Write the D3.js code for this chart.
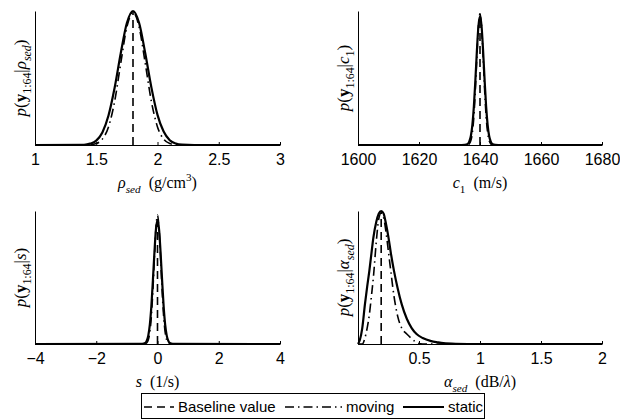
<!DOCTYPE html>
<html>
<head>
<meta charset="utf-8">
<script src="https://cdn.jsdelivr.net/npm/d3@7"></script>
<style>
  body { margin: 0; background: #fff; }
  svg { display: block; }
  .axis text { font-family: "Liberation Sans", Arial, sans-serif; font-size: 16px; fill: #000; }
  .axis path, .axis line { stroke: #000; }
  .math { font-family: "Liberation Serif", "DejaVu Serif", serif; fill: #000; }
  .legend text { font-family: "Liberation Sans", Arial, sans-serif; font-size: 15px; fill: #000; }
</style>
</head>
<body>
<svg id="chart" width="620" height="420"></svg>
<script>
// ---- data (normalised likelihood) ----
const rhoDomain = [1, 3];
const rhoTicks = [1, 1.5, 2, 2.5, 3];
const rhoBaseline = 1.8;
const rhoGrid =   [1, 1.4, 1.45, 1.5, 1.55, 1.6, 1.65, 1.7, 1.75, 1.8, 1.85, 1.9, 1.95, 2.0, 2.05, 2.1, 2.15, 2.2, 2.3, 3];
const rhoStatic = [0, 0.002, 0.01, 0.033, 0.094, 0.22, 0.427, 0.685, 0.91, 1, 0.91, 0.685, 0.43, 0.225, 0.1, 0.036, 0.011, 0.003, 0, 0];
const rhoMoving = [0, 0, 0.002, 0.011, 0.044, 0.135, 0.325, 0.61, 0.88, 0.99, 0.88, 0.61, 0.325, 0.135, 0.044, 0.011, 0.002, 0, 0, 0];

const c1Domain = [1600, 1680];
const c1Ticks = [1600, 1620, 1640, 1660, 1680];
const c1Baseline = 1640;
const c1Grid =   [1600, 1634, 1635, 1636, 1636.5, 1637, 1637.5, 1638, 1638.5, 1639, 1639.5, 1640, 1640.5, 1641, 1641.5, 1642, 1642.5, 1643, 1643.5, 1644, 1645, 1646, 1680];
const c1Static = [0, 0, 0.001, 0.008, 0.026, 0.067, 0.15, 0.29, 0.49, 0.71, 0.89, 0.96, 0.89, 0.71, 0.49, 0.29, 0.15, 0.067, 0.026, 0.008, 0.001, 0, 0];
const c1Moving = [0, 0, 0, 0.002, 0.01, 0.033, 0.092, 0.216, 0.42, 0.67, 0.89, 0.98, 0.89, 0.67, 0.42, 0.216, 0.092, 0.033, 0.01, 0.002, 0, 0, 0];

const sDomain = [-4, 4];
const sTicks = [-4, -2, 0, 2, 4];
const sBaseline = 0;
const sGrid =   [-4, -0.5, -0.4, -0.35, -0.3, -0.25, -0.2, -0.15, -0.1, -0.05, 0, 0.05, 0.1, 0.15, 0.2, 0.25, 0.3, 0.35, 0.4, 0.5, 4];
const sStatic = [0, 0.001, 0.008, 0.025, 0.065, 0.146, 0.285, 0.48, 0.69, 0.864, 0.93, 0.864, 0.69, 0.48, 0.285, 0.146, 0.065, 0.025, 0.008, 0.001, 0];
const sMoving = [0, 0, 0.002, 0.009, 0.031, 0.089, 0.21, 0.405, 0.65, 0.87, 0.97, 0.87, 0.65, 0.405, 0.21, 0.089, 0.031, 0.009, 0.002, 0, 0];

const alphaDomain = [0, 2];
const alphaTicks = [0.5, 1, 1.5, 2];
const alphaBaseline = 0.19;
const alphaGrid =   [0, 0.015, 0.035, 0.057, 0.075, 0.093, 0.11, 0.126, 0.15, 0.17, 0.19, 0.21, 0.23, 0.25, 0.27, 0.295, 0.325, 0.358, 0.4, 0.44, 0.48, 0.53, 0.6, 0.65, 0.7, 0.8, 1, 2];
const alphaStatic = [0, 0.03, 0.12, 0.3, 0.43, 0.55, 0.68, 0.8, 0.92, 0.98, 1, 0.98, 0.9, 0.8, 0.68, 0.55, 0.42, 0.3, 0.19, 0.12, 0.075, 0.045, 0.022, 0.013, 0.006, 0.002, 0, 0];
const alphaMoving = [0, 0, 0, 0.045, 0.12, 0.22, 0.36, 0.5, 0.77, 0.94, 0.985, 0.95, 0.84, 0.69, 0.54, 0.36, 0.21, 0.12, 0.075, 0.04, 0.012, 0, 0, 0, 0, 0, 0, 0];

const legendLabels = ["Baseline value", "moving", "static"];

// label pieces: [text, style]
const rhoXLabel = [["ρ", "i"], ["sed", "sub"], ["  (g/cm", "r"], ["3", "sup"], [")", "r"]];
const c1XLabel = [["c", "i"], ["1", "subr"], ["  (m/s)", "r"]];
const sXLabel = [["s", "i"], ["  (1/s)", "r"]];
const alphaXLabel = [["α", "i"], ["sed", "sub"], ["  (dB/", "r"], ["λ", "i"], [")", "r"]];
const yHead = [["p", "i"], ["(", "r"], ["y", "b"], ["1:64", "subr"], ["|", "r"]];
const rhoYLabel = yHead.concat([["ρ", "i"], ["sed", "sub"], [")", "r"]]);
const c1YLabel = yHead.concat([["c", "i"], ["1", "subr"], [")", "r"]]);
const sYLabel = yHead.concat([["s", "i"], [")", "r"]]);
const alphaYLabel = yHead.concat([["α", "i"], ["sed", "sub"], [")", "r"]]);

const panels = [
  { col: 0, row: 0, domain: rhoDomain, ticks: rhoTicks, grid: rhoGrid, stat: rhoStatic, mov: rhoMoving, base: rhoBaseline, xl: rhoXLabel, yl: rhoYLabel },
  { col: 1, row: 0, domain: c1Domain, ticks: c1Ticks, grid: c1Grid, stat: c1Static, mov: c1Moving, base: c1Baseline, xl: c1XLabel, yl: c1YLabel },
  { col: 0, row: 1, domain: sDomain, ticks: sTicks, grid: sGrid, stat: sStatic, mov: sMoving, base: sBaseline, xl: sXLabel, yl: sYLabel },
  { col: 1, row: 1, domain: alphaDomain, ticks: alphaTicks, grid: alphaGrid, stat: alphaStatic, mov: alphaMoving, base: alphaBaseline, xl: alphaXLabel, yl: alphaYLabel }
];

// ---- layout ----
const colX = [[35, 280], [358, 602]];
const rowY = [[11, 145], [211, 344]];
const dashStyle = "8,5";
const dashDotStyle = "9,4,1.5,4";

const svg = d3.select("#chart");

function mathText(sel, parts, size) {
  let shift = 0;
  parts.forEach(([t, s]) => {
    const small = (s === "sub" || s === "subr" || s === "sup");
    let target = 0;
    if (s === "sub" || s === "subr") target = 0.3 * size;
    if (s === "sup") target = -0.42 * size;
    const ts = sel.append("tspan").text(t).attr("dy", target - shift);
    shift = target;
    if (small) ts.attr("font-size", size * 0.7);
    if (s === "i" || s === "sub") ts.attr("font-style", "italic");
    if (s === "b") ts.attr("font-weight", "bold");
  });
  sel.style("white-space", "pre");
}

panels.forEach(p => {
  const [x0, x1] = colX[p.col];
  const [y0, y1] = rowY[p.row];
  const x = d3.scaleLinear().domain(p.domain).range([x0, x1]);
  const y = d3.scaleLinear().domain([0, 1]).range([y1, y0]);

  const pts = p.grid.map((g, i) => ({ x: g, s: p.stat[i], m: p.mov[i] }));
  const lineS = d3.line().x(d => x(d.x)).y(d => y(d.s)).curve(d3.curveMonotoneX);
  const lineM = d3.line().x(d => x(d.x)).y(d => y(d.m)).curve(d3.curveMonotoneX);
  const peak = Math.max(d3.max(p.stat), d3.max(p.mov));

  // baseline value
  svg.append("line")
    .attr("x1", x(p.base)).attr("x2", x(p.base))
    .attr("y1", y(0)).attr("y2", y(peak))
    .attr("stroke", "#000").attr("stroke-width", 1.6)
    .attr("stroke-dasharray", dashStyle);

  svg.append("path").datum(pts)
    .attr("d", lineM)
    .attr("fill", "none").attr("stroke", "#000").attr("stroke-width", 1.6)
    .attr("stroke-dasharray", dashDotStyle);

  svg.append("path").datum(pts)
    .attr("d", lineS)
    .attr("fill", "none").attr("stroke", "#000").attr("stroke-width", 2.2);

  // axes
  svg.append("g")
    .attr("class", "axis")
    .attr("transform", `translate(0,${y1})`)
    .call(d3.axisBottom(x).tickValues(p.ticks).tickSizeInner(-3).tickSizeOuter(0).tickPadding(8).tickFormat(d3.format("")))
    .call(g => g.selectAll("text").attr("dy", "0.75em"));

  svg.append("g")
    .attr("class", "axis")
    .attr("transform", `translate(${x0},0)`)
    .call(d3.axisLeft(y).tickValues([]).tickSizeOuter(0));

  // x label
  svg.append("text")
    .attr("class", "math")
    .attr("x", (x0 + x1) / 2)
    .attr("y", y1 + 43)
    .attr("text-anchor", "middle")
    .attr("font-size", 16)
    .call(mathText, p.xl, 16);

  // y label
  svg.append("text")
    .attr("class", "math")
    .attr("transform", `translate(${x0 - 9},${(y0 + y1) / 2}) rotate(-90)`)
    .attr("text-anchor", "middle")
    .attr("font-size", 17)
    .call(mathText, p.yl, 17);
});

// ---- legend ----
const leg = svg.append("g").attr("class", "legend");
leg.append("rect")
  .attr("x", 141.5).attr("y", 393.5).attr("width", 343).attr("height", 25)
  .attr("fill", "#fff").attr("stroke", "#000").attr("stroke-width", 1);

const legendItems = [
  { x1: 144, x2: 174, dash: dashStyle, w: 1.6 },
  { x1: 285, x2: 342, dash: dashDotStyle, w: 1.6 },
  { x1: 403, x2: 444, dash: null, w: 2.2 }
];
legendItems.forEach((it, i) => {
  leg.append("line")
    .attr("x1", it.x1).attr("x2", it.x2).attr("y1", 407).attr("y2", 407)
    .attr("stroke", "#000").attr("stroke-width", it.w)
    .attr("stroke-dasharray", it.dash);
  leg.append("text")
    .attr("x", it.x2 + 4).attr("y", 412)
    .text(legendLabels[i]);
});
</script>
</body>
</html>
